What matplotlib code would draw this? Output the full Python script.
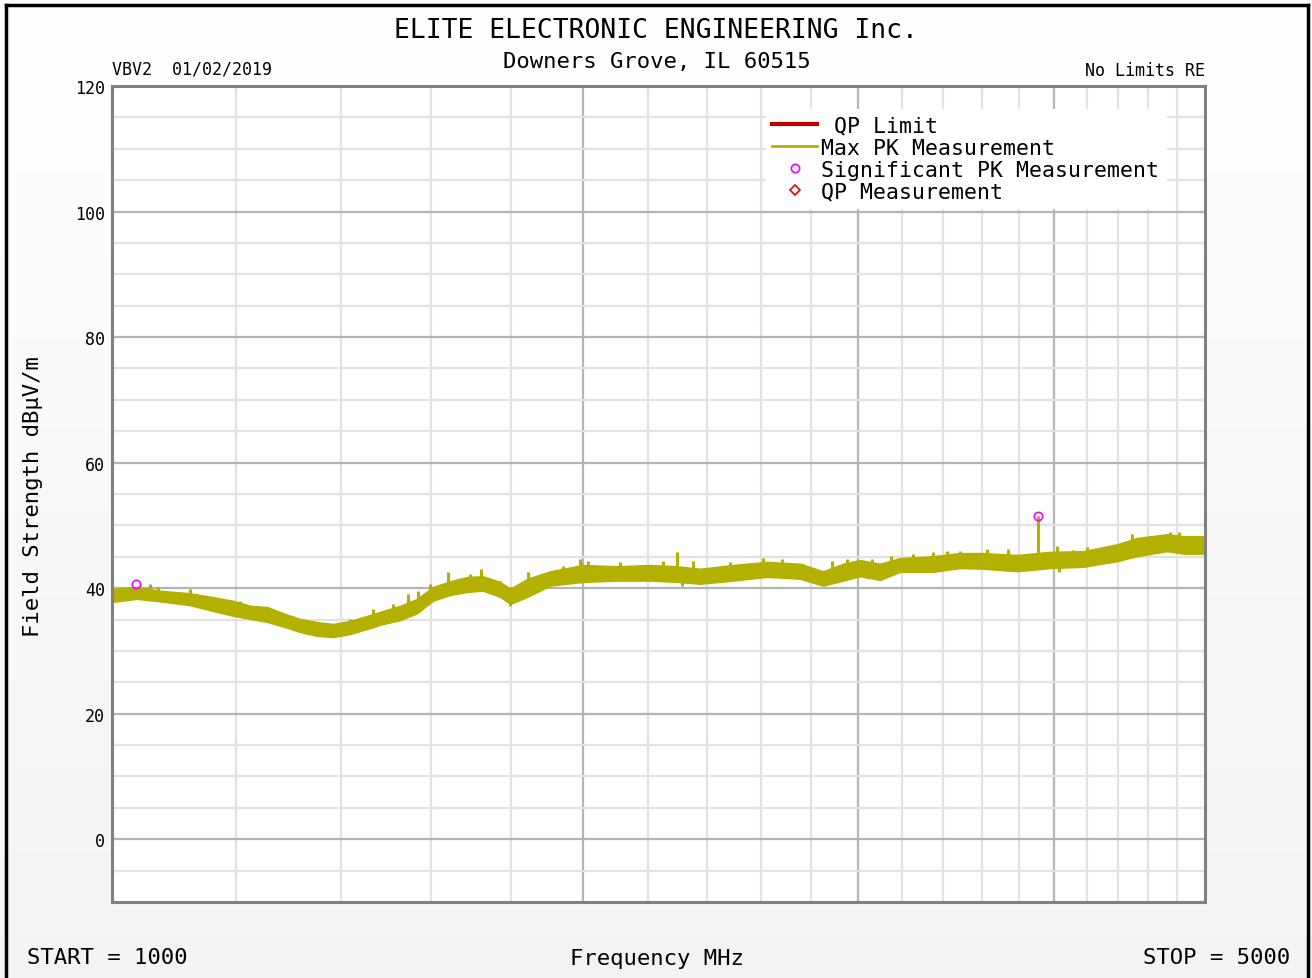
import numpy as np
import matplotlib
matplotlib.use("Agg")
import matplotlib.pyplot as plt
from matplotlib.ticker import FixedLocator, NullFormatter
from matplotlib.lines import Line2D

plt.rcParams["font.family"] = ["DejaVu Sans Mono", "DejaVu Sans"]

# Max PK trace envelope (MHz, dBuV/m)
freq = [1000, 1037, 1073, 1121, 1159, 1195, 1226, 1257, 1290, 1319, 1353,
        1385, 1420, 1456, 1491, 1528, 1567, 1604, 1645, 1687, 1727, 1771,
        1797, 1843, 1906, 2001, 2103, 2208, 2297, 2377, 2495, 2624, 2754,
        2849, 2934, 3008, 3098, 3191, 3350, 3486, 3606, 3791, 3980, 4178,
        4392, 4523, 4727, 4840, 5000]
pk_upper = [39.9, 40.2, 39.6, 39.2, 38.6, 38.0, 37.2, 37.0, 35.9, 35.1, 34.6,
            34.3, 34.8, 35.6, 36.4, 37.2, 38.3, 40.2, 41.1, 41.8, 41.9, 41.0,
            39.9, 41.5, 42.7, 43.7, 43.5, 43.7, 43.5, 43.1, 43.7, 44.2, 43.9,
            42.7, 43.9, 44.5, 43.9, 44.8, 45.1, 45.6, 45.6, 45.3, 45.8, 45.9,
            47.0, 48.0, 48.6, 48.3, 48.3]
pk_lower = [37.8, 38.3, 37.9, 37.3, 36.4, 35.6, 35.1, 34.6, 33.8, 33.0, 32.4,
            32.2, 32.7, 33.5, 34.3, 34.9, 36.0, 38.0, 38.9, 39.4, 39.6, 38.6,
            37.5, 38.6, 40.4, 41.0, 41.2, 41.2, 41.0, 40.7, 41.2, 41.8, 41.5,
            40.4, 41.2, 41.9, 41.3, 42.6, 42.6, 43.2, 43.1, 42.7, 43.2, 43.4,
            44.3, 45.1, 45.9, 45.5, 45.5]

# isolated spikes on the trace (MHz, base dB, tip dB)
spike_f = [1057, 1070, 1121, 1133, 1160, 1207, 1249, 1305, 1420, 1469, 1513,
           1546, 1570, 1597, 1641, 1694, 1722, 1771, 1797, 1845, 1942, 1992,
           2015, 2114, 2250, 2297, 2315, 2353, 2485, 2607, 2681, 2766, 2887,
           2951, 3060, 3150, 3251, 3350, 3420, 3486, 3626, 3738, 3910, 4022,
           4035, 4118, 4200, 4491, 4608, 4749, 4814, 4897]
spike_lo = [38.8, 38.6, 38.5, 38.0, 37.5, 36.8, 35.8, 34.5, 33.5, 34.5, 35.5,
            36.5, 37.0, 38.5, 39.5, 40.5, 40.5, 39.5, 37.2, 39.5, 41.5, 42.0,
            42.0, 42.0, 42.0, 42.0, 40.4, 41.5, 42.0, 42.5, 42.5, 42.5, 41.5,
            42.5, 42.5, 43.0, 43.5, 43.5, 44.0, 44.0, 44.0, 44.0, 44.0, 44.0,
            42.6, 44.5, 44.5, 46.5, 46.5, 47.0, 47.0, 47.0]
spike_hi = [40.7, 40.2, 39.9, 39.1, 38.6, 38.0, 36.7, 35.6, 35.1, 36.7, 37.5,
            39.1, 39.6, 40.7, 42.6, 42.3, 43.1, 41.1, 40.0, 42.6, 43.5, 44.7,
            44.3, 44.2, 44.3, 45.8, 42.0, 44.3, 44.2, 44.8, 44.7, 43.9, 44.3,
            44.7, 44.7, 45.1, 45.5, 45.8, 45.9, 45.9, 46.3, 46.3, 51.5, 46.7,
            44.5, 46.1, 46.6, 48.6, 48.3, 49.0, 49.0, 48.3]

# significant PK points
sig_f = [1036, 3910]
sig_db = [40.7, 51.5]

trace_color = "#b4b000"

fig = plt.figure(figsize=(13.12, 9.79), dpi=100)

# background gradient white -> light gray
bg = fig.add_axes([0, 0, 1, 1], zorder=-10)
grad = np.linspace(1.0, 0.955, 256).reshape(-1, 1)
bg.imshow(np.dstack([grad, grad, grad]), aspect="auto", extent=[0, 1, 0, 1])
bg.set_xlim(0, 1)
bg.set_ylim(0, 1)
bg.axis("off")

# outer frame
for xs, ys in [([0.0046, 0.0046], [0.0, 0.9939]), ([0.0046, 0.997], [0.9939, 0.9939]),
               ([0.997, 0.997], [0.0, 0.9939])]:
    fig.add_artist(Line2D(xs, ys, color="black", lw=2.5, transform=fig.transFigure))

ax = fig.add_axes([0.0854, 0.0776, 0.8331, 0.8335])
ax.set_facecolor("white")
ax.set_xscale("log")
ax.set_xlim(1000, 5000)
ax.set_ylim(-10, 120)

ax.xaxis.set_major_locator(FixedLocator([2000, 3000, 4000]))
ax.xaxis.set_minor_locator(FixedLocator([1200, 1400, 1600, 1800, 2200, 2400, 2600, 2800,
                                         3200, 3400, 3600, 3800, 4200, 4400, 4600, 4800]))
ax.xaxis.set_major_formatter(NullFormatter())
ax.xaxis.set_minor_formatter(NullFormatter())
ax.set_yticks(range(0, 121, 20))
ax.yaxis.set_minor_locator(FixedLocator([v for v in range(-5, 120, 5) if v % 20 != 0]))
ax.tick_params(which="both", length=0)
ax.tick_params(axis="y", labelsize=12, pad=5)
ax.grid(which="major", color="#b4b4b4", lw=1.6)
ax.grid(which="minor", color="#e2e2e2", lw=1.6)
ax.set_axisbelow(True)
for s in ax.spines.values():
    s.set_color("#808080")
    s.set_linewidth(2.2)

ax.fill_between(freq, pk_lower, pk_upper, color=trace_color, lw=1.0, edgecolor=trace_color)
ax.vlines(spike_f, spike_lo, spike_hi, color=trace_color, lw=2.2)
ax.plot(sig_f, sig_db, "o", ms=6, mfc="none", mec="#ff00ff", mew=1.2, zorder=5)

h_lim = Line2D([], [], color="#c00000", lw=3)
h_pk = Line2D([], [], color=trace_color, lw=2)
h_sig = Line2D([], [], ls="none", marker="o", ms=6, mfc="none", mec="#ff00ff", mew=1.2)
h_qp = Line2D([], [], ls="none", marker="D", ms=5, mfc="none", mec="#e00000", mew=1.2)
leg = ax.legend([h_lim, h_pk, h_sig, h_qp],
                [" QP Limit", "Max PK Measurement", "Significant PK Measurement", "QP Measurement"],
                loc="upper left", bbox_to_anchor=(0.588, 0.985), fontsize=15.5,
                handlelength=2.1, handletextpad=0.2, labelspacing=0.1,
                borderpad=0.3, frameon=True, fancybox=False)
leg.get_frame().set_facecolor("white")
leg.get_frame().set_edgecolor("white")
leg.get_frame().set_alpha(1)

fig.text(0.5, 0.968, "ELITE ELECTRONIC ENGINEERING Inc.", ha="center", va="center", fontsize=19)
fig.text(0.501, 0.9365, "Downers Grove, IL 60515", ha="center", va="center", fontsize=16)
fig.text(0.0854, 0.9285, "VBV2  01/02/2019", ha="left", va="center", fontsize=12)
fig.text(0.9185, 0.9275, "No Limits RE", ha="right", va="center", fontsize=12)
fig.text(0.0206, 0.0215, "START = 1000", ha="left", va="center", fontsize=16)
fig.text(0.501, 0.0205, "Frequency MHz", ha="center", va="center", fontsize=16)
fig.text(0.983, 0.0215, "STOP = 5000", ha="right", va="center", fontsize=16)
fig.text(0.0252, 0.4923, "Field Strength dBµV/m", ha="center", va="center",
         rotation=90, fontsize=16)

fig.savefig("out.png", dpi=100)
